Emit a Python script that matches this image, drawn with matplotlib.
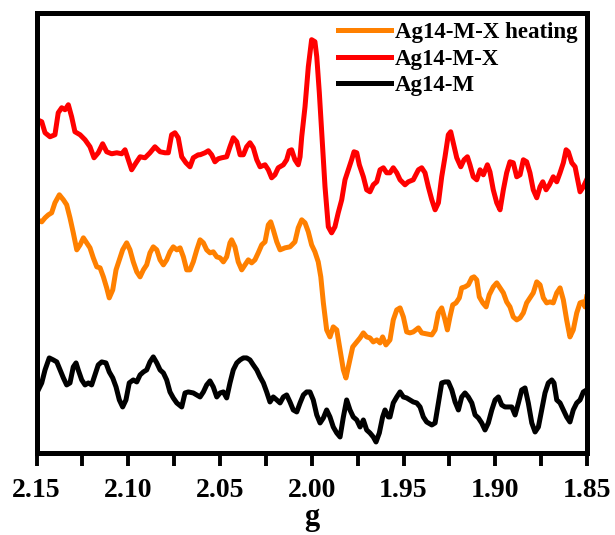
import matplotlib.pyplot as plt
from matplotlib.ticker import MultipleLocator

plt.rcParams['font.family'] = ['Liberation Serif', 'DejaVu Serif']
plt.rcParams['font.weight'] = 'bold'

# EPR traces (g value, intensity in arbitrary units)
g_red = [2.1496, 2.1472, 2.1454, 2.1427, 2.1400, 2.1382, 2.1363, 2.1345, 2.1327, 2.1309,
         2.1291, 2.1263, 2.1236, 2.1209, 2.1187, 2.1164, 2.1140, 2.1118, 2.1091, 2.1063,
         2.1036, 2.1018, 2.1000, 2.0982, 2.0958, 2.0936, 2.0909, 2.0882, 2.0855, 2.0827,
         2.0800, 2.0782, 2.0764, 2.0746, 2.0728, 2.0709, 2.0686, 2.0664, 2.0646, 2.0619,
         2.0609, 2.0582, 2.0564, 2.0546, 2.0528, 2.0510, 2.0491, 2.0464, 2.0446, 2.0428,
         2.0409, 2.0391, 2.0373, 2.0355, 2.0337, 2.0319, 2.0300, 2.0282, 2.0255, 2.0237,
         2.0219, 2.0201, 2.0183, 2.0155, 2.0137, 2.0123, 2.0110, 2.0092, 2.0074, 2.0064,
         2.0055, 2.0037, 2.0019, 2.0001, 1.9983, 1.9973, 1.9959, 1.9946, 1.9928, 1.9910,
         1.9892, 1.9874, 1.9856, 1.9837, 1.9819, 1.9801, 1.9783, 1.9770, 1.9755, 1.9741,
         1.9719, 1.9701, 1.9683, 1.9665, 1.9646, 1.9628, 1.9610, 1.9592, 1.9574, 1.9556,
         1.9537, 1.9519, 1.9492, 1.9474, 1.9447, 1.9419, 1.9401, 1.9383, 1.9365, 1.9346,
         1.9328, 1.9310, 1.9292, 1.9274, 1.9256, 1.9243, 1.9229, 1.9210, 1.9188, 1.9170,
         1.9152, 1.9138, 1.9120, 1.9101, 1.9083, 1.9065, 1.9043, 1.9029, 1.9011, 1.8992,
         1.8974, 1.8956, 1.8938, 1.8920, 1.8902, 1.8883, 1.8865, 1.8847, 1.8829, 1.8811,
         1.8793, 1.8774, 1.8756, 1.8741, 1.8723, 1.8705, 1.8684, 1.8665, 1.8647, 1.8629,
         1.8614, 1.8602, 1.8583, 1.8565, 1.8553, 1.8538, 1.8520, 1.8502]
i_red = [333, 331, 320, 316, 318, 340, 345, 343, 348, 336,
         321, 318, 313, 306, 295, 300, 309, 301, 299, 300,
         299, 303, 293, 283, 290, 296, 295, 300, 306, 301,
         300, 300, 318, 320, 315, 296, 290, 286, 295, 298,
         298, 300, 302, 298, 291, 294, 295, 296, 306, 315,
         311, 298, 298, 306, 310, 305, 293, 286, 288, 283,
         275, 278, 285, 288, 293, 302, 303, 293, 288, 296,
         316, 346, 386, 413, 411, 396, 360, 320, 266, 226,
         220, 226, 240, 253, 273, 283, 293, 301, 300, 288,
         276, 263, 261, 268, 271, 283, 285, 280, 280, 285,
         280, 273, 268, 271, 273, 283, 285, 280, 266, 253,
         243, 250, 276, 296, 318, 321, 310, 295, 286, 293,
         296, 288, 276, 273, 283, 278, 288, 281, 263, 250,
         243, 263, 280, 291, 290, 276, 278, 293, 291, 280,
         263, 255, 266, 271, 263, 268, 276, 271, 280, 290,
         303, 301, 290, 286, 275, 261, 266, 273]

g_orange = [2.1496, 2.1472, 2.1454, 2.1436, 2.1418, 2.1400, 2.1376, 2.1354, 2.1336, 2.1318,
            2.1300, 2.1281, 2.1263, 2.1245, 2.1227, 2.1209, 2.1191, 2.1172, 2.1154, 2.1136,
            2.1118, 2.1104, 2.1085, 2.1067, 2.1049, 2.1031, 2.1009, 2.0991, 2.0973, 2.0954,
            2.0936, 2.0918, 2.0900, 2.0882, 2.0864, 2.0845, 2.0827, 2.0809, 2.0791, 2.0773,
            2.0755, 2.0736, 2.0718, 2.0700, 2.0682, 2.0664, 2.0646, 2.0627, 2.0609, 2.0591,
            2.0573, 2.0555, 2.0537, 2.0518, 2.0500, 2.0482, 2.0464, 2.0446, 2.0437, 2.0419,
            2.0401, 2.0382, 2.0364, 2.0346, 2.0328, 2.0310, 2.0292, 2.0273, 2.0255, 2.0237,
            2.0224, 2.0210, 2.0191, 2.0173, 2.0146, 2.0119, 2.0092, 2.0074, 2.0055, 2.0037,
            2.0019, 2.0001, 1.9983, 1.9965, 1.9951, 1.9937, 1.9919, 1.9901, 1.9883, 1.9864,
            1.9846, 1.9828, 1.9814, 1.9796, 1.9777, 1.9755, 1.9737, 1.9719, 1.9701, 1.9683,
            1.9665, 1.9646, 1.9628, 1.9614, 1.9596, 1.9574, 1.9556, 1.9537, 1.9519, 1.9501,
            1.9483, 1.9465, 1.9447, 1.9419, 1.9401, 1.9374, 1.9346, 1.9328, 1.9310, 1.9292,
            1.9274, 1.9261, 1.9247, 1.9232, 1.9214, 1.9196, 1.9183, 1.9165, 1.9147, 1.9128,
            1.9116, 1.9101, 1.9087, 1.9068, 1.9050, 1.9033, 1.9011, 1.8992, 1.8974, 1.8956,
            1.8938, 1.8920, 1.8902, 1.8883, 1.8865, 1.8847, 1.8829, 1.8811, 1.8793, 1.8774,
            1.8756, 1.8738, 1.8720, 1.8702, 1.8684, 1.8665, 1.8647, 1.8629, 1.8611, 1.8593,
            1.8575, 1.8556, 1.8538, 1.8523, 1.8511, 1.8502]
i_orange = [233, 231, 235, 238, 240, 250, 258, 253, 248, 235,
            220, 203, 208, 215, 210, 205, 195, 186, 185, 176,
            165, 155, 163, 183, 193, 203, 210, 203, 191, 181,
            176, 183, 188, 200, 206, 203, 193, 188, 193, 201,
            206, 203, 205, 196, 183, 183, 191, 203, 213, 210,
            203, 200, 201, 196, 195, 191, 196, 210, 213, 206,
            191, 183, 188, 193, 190, 193, 200, 208, 211, 228,
            231, 223, 211, 203, 205, 206, 211, 225, 233, 230,
            221, 208, 201, 191, 176, 150, 123, 116, 126, 123,
            103, 83, 75, 90, 106, 111, 115, 120, 116, 115,
            111, 113, 110, 116, 108, 113, 133, 143, 145, 136,
            121, 120, 121, 125, 120, 119, 118, 123, 140, 145,
            133, 123, 136, 148, 150, 155, 165, 166, 168, 175,
            176, 173, 156, 150, 146, 158, 166, 170, 165, 160,
            151, 146, 136, 133, 135, 140, 150, 155, 160, 171,
            168, 155, 150, 151, 150, 160, 165, 153, 133, 116,
            123, 140, 150, 151, 146, 156]

g_black = [2.1496, 2.1472, 2.1454, 2.1431, 2.1409, 2.1390, 2.1372, 2.1354, 2.1336, 2.1318,
           2.1300, 2.1285, 2.1273, 2.1254, 2.1236, 2.1218, 2.1200, 2.1182, 2.1164, 2.1145,
           2.1122, 2.1104, 2.1085, 2.1067, 2.1049, 2.1031, 2.1013, 2.0995, 2.0973, 2.0954,
           2.0936, 2.0918, 2.0900, 2.0882, 2.0864, 2.0845, 2.0827, 2.0809, 2.0791, 2.0773,
           2.0755, 2.0736, 2.0709, 2.0691, 2.0673, 2.0646, 2.0627, 2.0609, 2.0591, 2.0573,
           2.0555, 2.0537, 2.0518, 2.0500, 2.0482, 2.0464, 2.0446, 2.0428, 2.0409, 2.0391,
           2.0373, 2.0355, 2.0337, 2.0319, 2.0300, 2.0282, 2.0264, 2.0246, 2.0228, 2.0210,
           2.0191, 2.0173, 2.0155, 2.0137, 2.0119, 2.0101, 2.0082, 2.0064, 2.0046, 2.0028,
           2.0010, 1.9992, 1.9973, 1.9955, 1.9937, 1.9919, 1.9901, 1.9883, 1.9864, 1.9846,
           1.9828, 1.9810, 1.9792, 1.9774, 1.9755, 1.9737, 1.9719, 1.9701, 1.9683, 1.9665,
           1.9650, 1.9632, 1.9614, 1.9601, 1.9583, 1.9574, 1.9556, 1.9537, 1.9519, 1.9501,
           1.9483, 1.9465, 1.9447, 1.9428, 1.9410, 1.9392, 1.9374, 1.9346, 1.9328, 1.9310,
           1.9292, 1.9274, 1.9256, 1.9237, 1.9219, 1.9201, 1.9183, 1.9165, 1.9147, 1.9128,
           1.9110, 1.9092, 1.9074, 1.9056, 1.9038, 1.9019, 1.9001, 1.8983, 1.8965, 1.8947,
           1.8929, 1.8910, 1.8892, 1.8874, 1.8856, 1.8838, 1.8820, 1.8801, 1.8783, 1.8765,
           1.8747, 1.8729, 1.8711, 1.8692, 1.8680, 1.8665, 1.8647, 1.8629, 1.8611, 1.8593,
           1.8575, 1.8556, 1.8538, 1.8520, 1.8502]
i_black = [61, 70, 83, 95, 93, 91, 83, 75, 68, 70,
           86, 90, 83, 73, 68, 70, 68, 78, 88, 91,
           90, 81, 75, 66, 53, 46, 53, 70, 73, 71,
           78, 81, 83, 91, 96, 90, 83, 80, 73, 61,
           55, 50, 46, 60, 61, 60, 58, 56, 61, 68,
           72, 66, 56, 60, 61, 55, 70, 83, 90, 93,
           95, 95, 93, 88, 83, 76, 70, 61, 51, 56,
           53, 50, 56, 58, 51, 43, 41, 50, 58, 61,
           61, 53, 38, 30, 35, 43, 36, 26, 20, 16,
           36, 53, 43, 36, 33, 26, 33, 23, 20, 16,
           11, 20, 36, 43, 36, 36, 50, 56, 61, 56,
           55, 53, 51, 50, 46, 36, 31, 28, 30, 50,
           70, 71, 71, 63, 51, 43, 56, 60, 56, 50,
           38, 35, 30, 23, 30, 43, 53, 56, 48, 46,
           46, 46, 38, 50, 63, 65, 50, 30, 21, 26,
           43, 60, 70, 73, 70, 53, 50, 43, 36, 31,
           43, 50, 53, 61, 63]

labels = ['Ag14-M-X heating', 'Ag14-M-X', 'Ag14-M']
colours = ['#ff8000', '#ff0000', '#000000']

fig = plt.figure(figsize=(6.15, 5.35), dpi=100)
ax = fig.add_axes([0.0595, 0.1533, 0.895, 0.823])

ax.plot(g_orange, i_orange, color=colours[0], lw=3.6, label=labels[0], solid_joinstyle='round')
ax.plot(g_red, i_red, color=colours[1], lw=3.6, label=labels[1], solid_joinstyle='round')
ax.plot(g_black, i_black, color=colours[2], lw=3.6, label=labels[2], solid_joinstyle='round')

ax.set_xlim(2.15, 1.85)
ax.set_ylim(0, 440)
ax.set_yticks([])
ax.xaxis.set_major_locator(MultipleLocator(0.05))
ax.xaxis.set_minor_locator(MultipleLocator(0.025))
ax.tick_params(axis='x', which='both', direction='out', length=9, width=2.8, pad=9, labelsize=20)
ax.set_xticklabels([f'{t:.2f}' for t in ax.get_xticks()], fontweight='bold')
for s in ax.spines.values():
    s.set_linewidth(3.6)

ax.set_xlabel('g', fontsize=22, fontweight='bold', labelpad=0)

ax.legend(loc='upper right', bbox_to_anchor=(1.0, 1.0), frameon=False, fontsize=16.5,
          handlelength=2.3, handletextpad=0.2, labelspacing=0.25, borderpad=0.3,
          borderaxespad=0.1)

plt.savefig('out.png', dpi=100)
